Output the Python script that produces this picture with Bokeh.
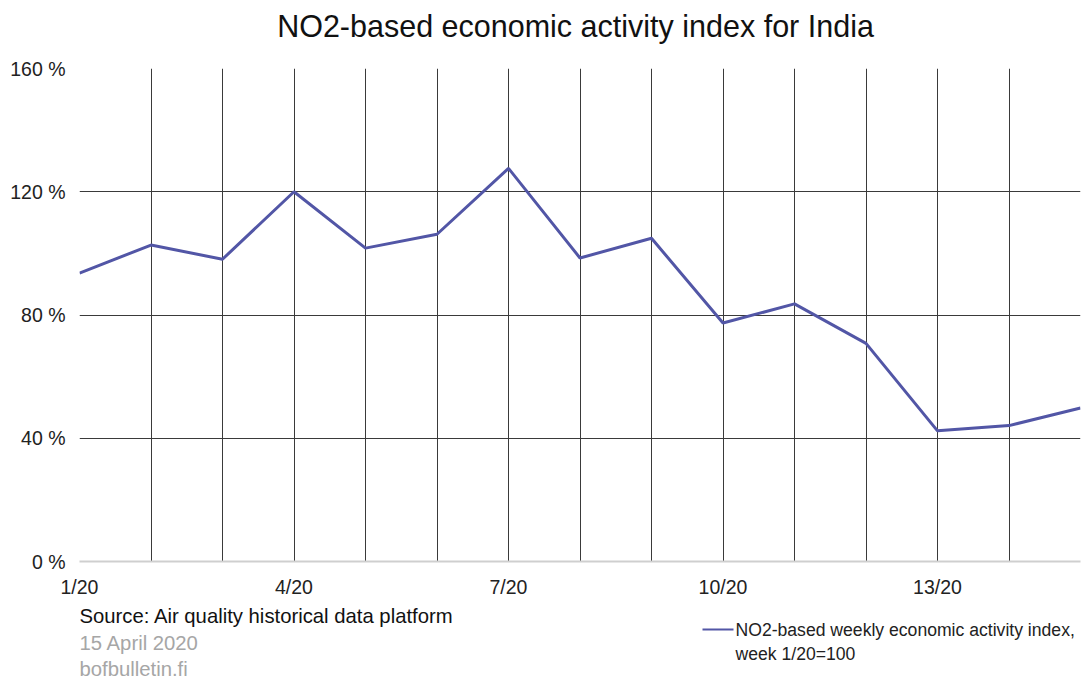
from bokeh.plotting import figure
from bokeh.layouts import column
from bokeh.models import Range1d, FixedTicker, Label, BoxAnnotation
from bokeh.embed import file_html
from bokeh.resources import INLINE

weeks = list(range(1, 16))
index_values = [93.6, 102.7, 98.1, 120.0, 101.7, 106.2, 127.6, 98.5, 104.9, 77.4, 83.6, 70.8, 42.4, 44.1, 49.8]
x_tick_weeks = [1, 4, 7, 10, 13]
x_tick_labels = ["1/20", "4/20", "7/20", "10/20", "13/20"]
y_ticks = [0, 40, 80, 120, 160]
y_tick_labels = ["0 %", "40 %", "80 %", "120 %", "160 %"]

FONT = "Liberation Sans"
LINE_COLOR = "#5256a6"
W = 1084


def blank_figure(h):
    f = figure(width=W, height=h, output_backend="svg", toolbar_location=None,
               x_axis_type=None, y_axis_type=None,
               x_range=Range1d(0, W), y_range=Range1d(0, h),
               min_border_left=0, min_border_right=0, min_border_top=0, min_border_bottom=0)
    f.outline_line_color = None
    f.xgrid.visible = False
    f.ygrid.visible = False
    return f


def add_text(f, x, y, text, size, color, align="left"):
    # screen units: x from the (column-aligned) frame's left edge, y from its bottom
    f.add_layout(Label(x=x, y=y, x_units="screen", y_units="screen",
                       text=text, text_font=FONT, text_font_size=size,
                       text_color=color, text_align=align, text_baseline="middle"))


# ---- header with title ----
header = blank_figure(56)
add_text(header, 496, 31, "NO2-based economic activity index for India", "30.5px", "#111111", "center")

# ---- main chart ----
p = figure(width=W, height=544, output_backend="svg", toolbar_location=None,
           x_range=Range1d(1, 15), y_range=Range1d(0, 160),
           min_border_left=79, min_border_right=4, min_border_top=12, min_border_bottom=38)
p.outline_line_color = None

p.xaxis.ticker = FixedTicker(ticks=x_tick_weeks)
p.xaxis.major_label_overrides = {w: l for w, l in zip(x_tick_weeks, x_tick_labels)}
p.yaxis.ticker = FixedTicker(ticks=y_ticks)
p.yaxis.major_label_overrides = {v: l for v, l in zip(y_ticks, y_tick_labels)}
for ax in (p.xaxis, p.yaxis):
    ax.major_label_text_font = FONT
    ax.major_label_text_font_size = "19.5px"
    ax.major_label_text_color = "#222222"
    ax.major_tick_line_color = None
    ax.minor_tick_line_color = None
p.xaxis.axis_line_color = "#cfcfcf"
p.xaxis.axis_line_width = 2
p.yaxis.axis_line_color = None
p.xaxis.major_label_standoff = 8
p.yaxis.major_label_standoff = 8

p.xgrid.ticker = FixedTicker(ticks=weeks)
p.xgrid.grid_line_color = "#3a3a3a"
p.xgrid.grid_line_width = 1
p.ygrid.ticker = FixedTicker(ticks=[40, 80, 120, 160])
p.ygrid.grid_line_color = "#3a3a3a"
p.ygrid.grid_line_width = 1

p.line(weeks, index_values, line_color=LINE_COLOR, line_width=3)

# ---- footer: source notes and legend ----
footer = blank_figure(84)
add_text(footer, 0, 69, "Source: Air quality historical data platform", "20.3px", "#111111")
add_text(footer, 0, 42, "15 April 2020", "20.3px", "#a6a6a6")
add_text(footer, 0, 16, "bofbulletin.fi", "20.3px", "#a6a6a6")

footer.add_layout(BoxAnnotation(left=623, right=654, top=56, bottom=54,
                                left_units="screen", right_units="screen",
                                top_units="screen", bottom_units="screen",
                                fill_color=LINE_COLOR, fill_alpha=1, line_color=None))
add_text(footer, 656, 55, "NO2-based weekly economic activity index,", "17.6px", "#222222")
add_text(footer, 656, 31, "week 1/20=100", "17.6px", "#222222")

layout = column(header, p, footer, spacing=0)
open("out.html", "w").write(file_html(layout, INLINE))
